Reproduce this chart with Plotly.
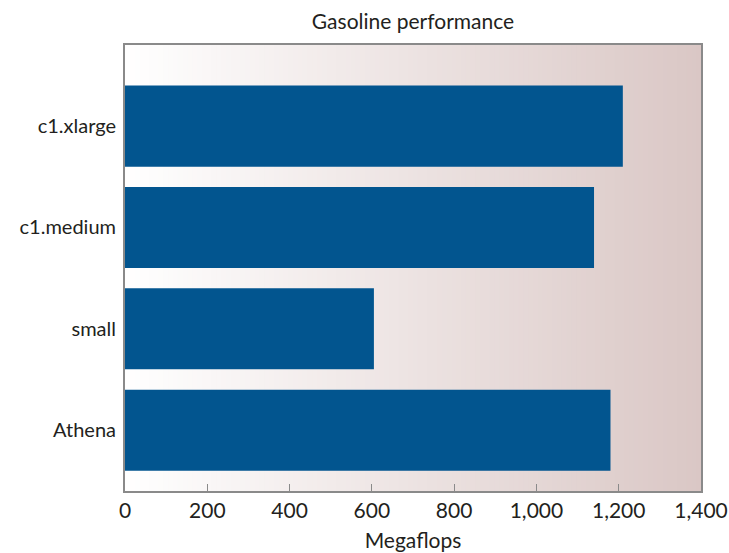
import plotly.graph_objects as go

# Instance types and their measured throughput (Megaflops)
categories = ["Athena", "small", "c1.medium", "c1.xlarge"]
megaflops = [1180, 605, 1140, 1210]
x_tick_values = [0, 200, 400, 600, 800, 1000, 1200, 1400]
x_tick_labels = ["0", "200", "400", "600", "800", "1,000", "1,200", "1,400"]

BAR_COLOR = "#02558f"
TEXT_COLOR = "#231f20"
FRAME_COLOR = "#8a8a8a"
FONT = "Lato, Open Sans, sans-serif"

fig = go.Figure(
    go.Bar(
        x=megaflops,
        y=categories,
        orientation="h",
        marker=dict(color=BAR_COLOR, line=dict(width=0)),
        width=0.8,
        hoverinfo="x+y",
    )
)

# Horizontal white-to-rose gradient behind the plot area, built from thin strips
left_rgb = (255, 255, 255)
right_rgb = (218, 199, 197)
n_strips = 120
shapes = []
for i in range(n_strips):
    t = (i + 0.5) / n_strips
    r, g, b = (round(a + (c - a) * t) for a, c in zip(left_rgb, right_rgb))
    shapes.append(
        dict(
            type="rect",
            xref="x domain",
            yref="y domain",
            x0=i / n_strips,
            x1=(i + 1) / n_strips + 0.002,
            y0=0,
            y1=1,
            fillcolor=f"rgb({r},{g},{b})",
            line=dict(width=0),
            layer="below",
        )
    )

fig.update_layout(
    width=729,
    height=553,
    margin=dict(l=125, r=28, t=45, b=62),
    paper_bgcolor="white",
    plot_bgcolor="rgba(0,0,0,0)",
    shapes=shapes,
    showlegend=False,
    font=dict(family=FONT, color=TEXT_COLOR),
    title=dict(
        text="Gasoline performance",
        x=(125 + 701) / 2 / 729,
        xanchor="center",
        y=1 - 22 / 553,
        yanchor="middle",
        font=dict(size=21, color=TEXT_COLOR, family=FONT),
    ),
    xaxis=dict(
        range=[0, 1400],
        tickvals=x_tick_values,
        ticktext=x_tick_labels,
        ticks="inside",
        ticklen=7,
        tickwidth=1,
        tickcolor=FRAME_COLOR,
        tickfont=dict(size=21, color=TEXT_COLOR),
        showgrid=False,
        zeroline=False,
        showline=True,
        linecolor=FRAME_COLOR,
        linewidth=2,
        mirror=True,
        automargin=False,
        title=dict(text="Megaflops", font=dict(size=21, color=TEXT_COLOR), standoff=12),
    ),
    yaxis=dict(
        categoryorder="array",
        categoryarray=categories,
        range=[-0.6, 3.8],
        ticks="",
        ticklabelstandoff=3,
        tickfont=dict(size=20, color=TEXT_COLOR),
        showgrid=False,
        zeroline=False,
        showline=True,
        linecolor=FRAME_COLOR,
        linewidth=2,
        mirror=True,
        automargin=False,
    ),
)

fig.write_html("out.html")
